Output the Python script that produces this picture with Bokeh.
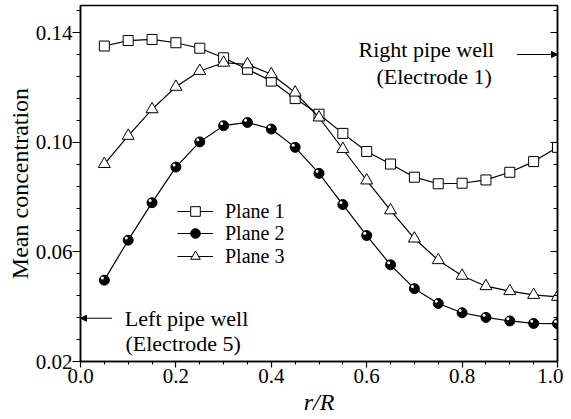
from bokeh.plotting import figure
from bokeh.models import (Range1d, LinearAxis, FixedTicker, NumeralTickFormatter,
                          CustomJSTickFormatter, Legend, LegendItem, Label, Arrow,
                          NormalHead, ColumnDataSource)
from bokeh.transform import dodge
from bokeh.embed import file_html
from bokeh.resources import INLINE

# ---- data ----
r_over_R = [0.05, 0.10, 0.15, 0.20, 0.25, 0.30, 0.35, 0.40, 0.45, 0.50,
            0.55, 0.60, 0.65, 0.70, 0.75, 0.80, 0.85, 0.90, 0.95, 1.00]
plane1 = [0.1352, 0.1372, 0.1376, 0.1364, 0.1344, 0.1309, 0.1267, 0.1224, 0.1160, 0.1103,
          0.1033, 0.0967, 0.0921, 0.0873, 0.0849, 0.0851, 0.0863, 0.0891, 0.0930, 0.0982]
plane2 = [0.0497, 0.0643, 0.0780, 0.0910, 0.1002, 0.1061, 0.1073, 0.1049, 0.0982, 0.0887,
          0.0773, 0.0660, 0.0553, 0.0466, 0.0412, 0.0378, 0.0361, 0.0348, 0.0339, 0.0338]
plane3 = [0.0921, 0.1024, 0.1121, 0.1203, 0.1261, 0.1291, 0.1285, 0.1249, 0.1182, 0.1091,
          0.0976, 0.0861, 0.0752, 0.0649, 0.0570, 0.0513, 0.0475, 0.0457, 0.0443, 0.0436]
series_names = ["Plane 1", "Plane 2", "Plane 3"]
x_major_ticks = [0.0, 0.2, 0.4, 0.6, 0.8, 1.0]
x_minor_ticks = [i * 0.05 for i in range(21)]
y_major_ticks = [0.02, 0.06, 0.10, 0.14]
y_minor_ticks = [0.02 + i * 0.008 for i in range(17)]

FONT = "Liberation Serif"

src = ColumnDataSource(dict(x=r_over_R, p1=plane1, p2=plane2, p3=plane3))

p = figure(width=563, height=419, output_backend="svg", toolbar_location=None,
           x_range=Range1d(0.0, 1.0), y_range=Range1d(0.02, 0.15),
           min_border_left=80, min_border_right=6, min_border_top=5, min_border_bottom=58)
p.grid.visible = False
p.outline_line_color = "black"
p.outline_line_width = 1.5
p.background_fill_color = "white"
p.border_fill_color = "white"

# axes
p.xaxis.axis_line_width = 1.5
p.yaxis.axis_line_width = 1.5
p.xaxis.major_tick_line_width = 1.2
p.yaxis.major_tick_line_width = 1.2
p.xaxis.minor_tick_line_width = 1.0
p.yaxis.minor_tick_line_width = 1.0
p.xaxis.major_tick_in = 0
p.yaxis.major_tick_in = 0
p.xaxis.minor_tick_in = 0
p.yaxis.minor_tick_in = 0
p.xaxis.major_label_text_font = FONT
p.yaxis.major_label_text_font = FONT
p.xaxis.major_label_text_font_size = "21px"
p.yaxis.major_label_text_font_size = "21px"
p.xaxis.major_label_text_color = "black"
p.yaxis.major_label_text_color = "black"
p.xaxis.axis_label_text_font = FONT
p.yaxis.axis_label_text_font = FONT
p.xaxis.axis_label_text_color = "black"
p.yaxis.axis_label_text_color = "black"

p.xaxis.ticker = FixedTicker(ticks=x_major_ticks, minor_ticks=x_minor_ticks)
p.xaxis.formatter = NumeralTickFormatter(format="0.0")
p.xaxis.major_tick_out = 6
p.xaxis.minor_tick_out = 3
p.xaxis.major_label_standoff = 1
p.xaxis.axis_label = "r/R"
p.xaxis.axis_label_text_font_style = "italic"
p.xaxis.axis_label_text_font_size = "24px"
p.xaxis.axis_label_standoff = 3

p.yaxis.ticker = FixedTicker(ticks=y_major_ticks, minor_ticks=y_minor_ticks)
p.yaxis.formatter = NumeralTickFormatter(format="0.00")
p.yaxis.major_tick_out = 8
p.yaxis.minor_tick_out = 4
p.yaxis.major_label_standoff = 0
p.yaxis.axis_label = "Mean concentration"
p.yaxis.axis_label_text_font_style = "normal"
p.yaxis.axis_label_text_font_size = "24px"
p.yaxis.axis_label_standoff = 0

right = LinearAxis(ticker=FixedTicker(ticks=y_major_ticks, minor_ticks=y_minor_ticks),
                   formatter=CustomJSTickFormatter(code="return ''"),
                   major_tick_in=7, major_tick_out=0, minor_tick_in=4, minor_tick_out=0,
                   major_label_standoff=0, axis_label_standoff=0,
                   major_label_text_font_size="1px",
                   axis_line_width=1.5, major_tick_line_width=1.2, minor_tick_line_width=1.0)
p.add_layout(right, "right")

# series
l1 = p.line("x", "p1", source=src, line_color="black", line_width=1.2)
s1 = p.scatter("x", "p1", source=src, marker="square", size=10,
               fill_color="white", line_color="black", line_width=1.0)

l2 = p.line("x", "p2", source=src, line_color="black", line_width=1.2)
s2 = p.scatter("x", "p2", source=src, marker="circle", size=10,
               fill_color="black", line_color="black", line_width=1.0)
h2 = p.scatter(dodge("x", -0.004, range=p.x_range), dodge("p2", 0.0008, range=p.y_range),
               source=src, marker="circle", size=3, fill_color="white", line_color=None)

l3 = p.line("x", "p3", source=src, line_color="black", line_width=1.2)
s3 = p.scatter("x", "p3", source=src, marker="triangle", size=12,
               fill_color="white", line_color="black", line_width=1.0)

# one legend box per row, for exact row spacing
rows = [(series_names[0], [l1, s1], 138),
        (series_names[1], [l2, s2], 116),
        (series_names[2], [l3, s3], 93)]
for name, rends, ypos in rows:
    lg = Legend(items=[LegendItem(label=name, renderers=rends)], location=(97, ypos))
    lg.glyph_width = 36
    lg.glyph_height = 24
    lg.label_height = 24
    lg.label_standoff = 12
    lg.label_text_font = FONT
    lg.label_text_font_size = "20px"
    lg.label_text_color = "black"
    lg.spacing = 0
    lg.padding = 0
    lg.margin = 0
    lg.border_line_alpha = 0
    lg.background_fill_alpha = 0
    p.add_layout(lg, "center")

# annotations
def add_label(x, y, text):
    p.add_layout(Label(x=x, y=y, text=text, text_font=FONT, text_font_size="22px",
                       text_baseline="alphabetic", text_align="left", text_color="black"))

add_label(0.5828, 0.1341, "Right pipe well")
add_label(0.6205, 0.1241, "(Electrode 1)")
add_label(0.0930, 0.0356, "Left pipe well")
add_label(0.0943, 0.0265, "(Electrode 5)")

p.add_layout(Arrow(end=NormalHead(size=6, fill_color="black", line_color="black"),
                   x_start=0.915, y_start=0.1321, x_end=1.0, y_end=0.1321,
                   line_color="black", line_width=1.0))
p.add_layout(Arrow(end=NormalHead(size=6, fill_color="black", line_color="black"),
                   x_start=0.066, y_start=0.0358, x_end=0.0, y_end=0.0358,
                   line_color="black", line_width=1.0))

open("out.html", "w").write(file_html(p, INLINE))
